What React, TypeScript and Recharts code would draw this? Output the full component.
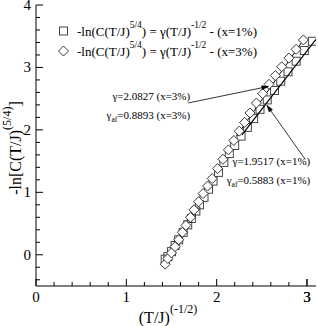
import React from 'react';
import { ComposedChart, Scatter, XAxis, YAxis, ReferenceDot } from 'recharts';

// ---- data ----
const sqX = [1.43, 1.46, 1.50, 1.54, 1.58, 1.63, 1.68, 1.72, 1.77, 1.81, 1.86, 1.91, 1.96, 2.02, 2.08, 2.14, 2.20, 2.27, 2.34, 2.41, 2.48, 2.56, 2.64, 2.71, 2.79, 2.88, 2.97, 3.06];
const sqY = [-0.07, -0.03, 0.05, 0.15, 0.24, 0.36, 0.48, 0.58, 0.70, 0.80, 0.92, 1.05, 1.18, 1.32, 1.48, 1.62, 1.75, 1.90, 2.04, 2.18, 2.33, 2.48, 2.63, 2.78, 2.93, 3.10, 3.27, 3.42];
const diX = [1.43, 1.46, 1.50, 1.54, 1.58, 1.62, 1.66, 1.71, 1.75, 1.80, 1.85, 1.90, 1.95, 2.01, 2.07, 2.13, 2.19, 2.25, 2.31, 2.37, 2.44, 2.51, 2.58, 2.65, 2.72, 2.80, 2.88, 2.96];
const diY = [-0.15, -0.06, 0.03, 0.13, 0.24, 0.36, 0.47, 0.60, 0.72, 0.85, 0.98, 1.10, 1.22, 1.38, 1.53, 1.68, 1.83, 1.98, 2.12, 2.27, 2.43, 2.58, 2.73, 2.87, 3.01, 3.15, 3.29, 3.44];
const fit1X = [2.28, 3.1];
const fit1Y = [1.92, 3.45];
const fit3X = [2.22, 2.97];
const fit3Y = [1.90, 3.46];
const arrow3X = [1.685, 2.574];
const arrow3Y = [2.431, 2.696];
const arrow1X = [2.981, 2.557];
const arrow1Y = [1.527, 2.393];

const xMajor = [0, 1, 2, 3];
const xMajorLabels = ['0', '1', '2', '3'];
const xMinor = [0.2, 0.4, 0.6, 0.8, 1.2, 1.4, 1.6, 1.8, 2.2, 2.4, 2.6, 2.8, 3.0];
const yMajor = [0, 1, 2, 3, 4];
const yMajorLabels = ['0', '1', '2', '3', '4'];
const yMinor = [-0.4, -0.2, 0.2, 0.4, 0.6, 0.8, 1.2, 1.4, 1.6, 1.8, 2.2, 2.4, 2.6, 2.8, 3.2, 3.4, 3.6, 3.8];

const legendLabels = ['(x=1%)', '(x=3%)'];
const gammaTexts = ['2.0827 (x=3%)', '1.9517 (x=1%)'];
const gammaAfTexts = ['0.8893 (x=3%)', '0.5883 (x=1%)'];

const pts = (xs: number[], ys: number[]) => xs.map((x, i) => ({ x, y: ys[i] }));
const squares = pts(sqX, sqY);
const diamonds = pts(diX, diY);
const fit1 = pts(fit1X, fit1Y);
const fit3 = pts(fit3X, fit3Y);
const arrow3 = pts(arrow3X, arrow3Y);
const arrow1 = pts(arrow1X, arrow1Y);

const xTicks = [...xMajor, ...xMinor].sort((a, b) => a - b);
const yTicks = [...yMajor, ...yMinor].sort((a, b) => a - b);

const FONT = '"Liberation Serif", "Times New Roman", serif';
const W = 318;
const H = 326;
const MAJ = 7;
const MIN = 4;

const isMajor = (v: number, majors: number[]) => majors.some((m) => Math.abs(m - v) < 1e-6);
const labelOf = (v: number, majors: number[], labels: string[]) => {
  const i = majors.findIndex((m) => Math.abs(m - v) < 1e-6);
  return i >= 0 ? labels[i] : '';
};

const BottomTick = (p: any) => {
  const v = p.payload.value;
  const maj = isMajor(v, xMajor);
  return (
    <g>
      <line x1={p.x} y1={p.y} x2={p.x} y2={p.y - (maj ? MAJ : MIN)} stroke="#000" strokeWidth={1} />
      {maj && (
        <text x={p.x} y={p.y + 15.5} textAnchor="middle" fontSize={15} fontFamily={FONT} fill="#000">
          {labelOf(v, xMajor, xMajorLabels)}
        </text>
      )}
    </g>
  );
};
const TopTick = (p: any) => {
  const maj = isMajor(p.payload.value, xMajor);
  return <line x1={p.x} y1={p.y} x2={p.x} y2={p.y + (maj ? MAJ : MIN)} stroke="#000" strokeWidth={1} />;
};
const LeftTick = (p: any) => {
  const v = p.payload.value;
  const maj = isMajor(v, yMajor);
  return (
    <g>
      <line x1={p.x} y1={p.y} x2={p.x + (maj ? MAJ : MIN)} y2={p.y} stroke="#000" strokeWidth={1} />
      {maj && (
        <text x={p.x - 5} y={p.y + 5} textAnchor="end" fontSize={15} fontFamily={FONT} fill="#000">
          {labelOf(v, yMajor, yMajorLabels)}
        </text>
      )}
    </g>
  );
};
const RightTick = (p: any) => {
  const maj = isMajor(p.payload.value, yMajor);
  return <line x1={p.x} y1={p.y} x2={p.x - (maj ? MAJ : MIN)} y2={p.y} stroke="#000" strokeWidth={1} />;
};

const SquareShape = (p: any) => (
  <rect x={p.cx - 4} y={p.cy - 4} width={8} height={8} fill="none" stroke="#333" strokeWidth={0.9} />
);
const DiamondShape = (p: any) => (
  <path
    d={`M${p.cx},${p.cy - 5}L${p.cx + 5},${p.cy}L${p.cx},${p.cy + 5}L${p.cx - 5},${p.cy}Z`}
    fill="#fff"
    stroke="#222"
    strokeWidth={0.9}
  />
);
const NoShape = () => <g />;

const ArrowLine = (props: any) => {
  const ps = props.points || [];
  if (ps.length < 2) return <g />;
  const a = ps[0];
  const b = ps[ps.length - 1];
  const ang = Math.atan2(b.y - a.y, b.x - a.x);
  const L = 7;
  const s = 0.3;
  const p1x = b.x - L * Math.cos(ang - s);
  const p1y = b.y - L * Math.sin(ang - s);
  const p2x = b.x - L * Math.cos(ang + s);
  const p2y = b.y - L * Math.sin(ang + s);
  return (
    <g>
      <line x1={a.x} y1={a.y} x2={b.x} y2={b.y} stroke="#000" strokeWidth={0.8} />
      <path d={`M${p1x},${p1y}L${b.x},${b.y}L${p2x},${p2y}Z`} fill="#000" stroke="#000" strokeWidth={0.5} />
    </g>
  );
};

const GammaText = (text: string) => (p: any) => (
  <text x={p.cx} y={p.cy} textAnchor="end" fontSize={11} fontFamily={FONT} fill="#000">
    γ={text}
  </text>
);
const GammaAfText = (text: string) => (p: any) => (
  <text x={p.cx} y={p.cy} textAnchor="end" fontSize={11} fontFamily={FONT} fill="#000">
    γ<tspan fontSize={7.5} dy={3}>af</tspan>
    <tspan dy={-3}>={text}</tspan>
  </text>
);

const axisCommon = {
  type: 'number' as const,
  tickSize: 0,
  tickMargin: 0,
  tickLine: false,
  interval: 0 as const,
  allowDataOverflow: true,
  axisLine: { stroke: '#000', strokeWidth: 1 },
};

const LegendFormula = ({ y, label }: { y: number; label: string }) => (
  <text x={77} y={y} fontSize={13} fontFamily={FONT} fill="#000">
    -ln(C(T/J)
    <tspan fontSize={9.5} dy={-8}>5/4</tspan>
    <tspan dy={8}>) = γ(T/J)</tspan>
    <tspan fontSize={9.5} dy={-8}>-1/2</tspan>
    <tspan dy={8}> - {label}</tspan>
  </text>
);

export default function App() {
  return (
    <div style={{ position: 'absolute', left: 0, top: 0, width: W, height: H, background: '#fff' }}>
      <ComposedChart width={W} height={H} margin={{ top: 5, right: 2, left: 0, bottom: 0 }}>
        <XAxis xAxisId="b" dataKey="x" domain={[0, 3.1]} ticks={xTicks} height={40} tick={BottomTick} {...axisCommon} />
        <XAxis xAxisId="t" orientation="top" dataKey="x" domain={[0, 3.1]} ticks={xTicks} height={0} tick={TopTick} {...axisCommon} />
        <YAxis yAxisId="l" dataKey="y" domain={[-0.5, 4]} ticks={yTicks} width={36} tick={LeftTick} {...axisCommon} />
        <YAxis yAxisId="r" orientation="right" dataKey="y" domain={[-0.5, 4]} ticks={yTicks} width={0} tick={RightTick} {...axisCommon} />

        <Scatter xAxisId="b" yAxisId="l" data={squares} shape={SquareShape} isAnimationActive={false} />
        <Scatter xAxisId="b" yAxisId="l" data={fit1} shape={NoShape} line={{ stroke: '#000', strokeWidth: 1.2 }} isAnimationActive={false} />
        <Scatter xAxisId="b" yAxisId="l" data={fit3} shape={NoShape} line={{ stroke: '#000', strokeWidth: 1 }} isAnimationActive={false} />
        <Scatter xAxisId="b" yAxisId="l" data={diamonds} shape={DiamondShape} isAnimationActive={false} />
        <Scatter xAxisId="b" yAxisId="l" data={arrow3} shape={NoShape} line={ArrowLine} isAnimationActive={false} />
        <Scatter xAxisId="b" yAxisId="l" data={arrow1} shape={NoShape} line={ArrowLine} isAnimationActive={false} />

        <ReferenceDot xAxisId="b" yAxisId="l" x={1.707} y={2.484} r={0} shape={GammaText(gammaTexts[0])} ifOverflow="visible" />
        <ReferenceDot xAxisId="b" yAxisId="l" x={1.707} y={2.181} r={0} shape={GammaAfText(gammaAfTexts[0])} ifOverflow="visible" />
        <ReferenceDot xAxisId="b" yAxisId="l" x={3.037} y={1.431} r={0} shape={GammaText(gammaTexts[1])} ifOverflow="visible" />
        <ReferenceDot xAxisId="b" yAxisId="l" x={3.037} y={1.136} r={0} shape={GammaAfText(gammaAfTexts[1])} ifOverflow="visible" />
      </ComposedChart>

      <svg width={W} height={H} style={{ position: 'absolute', left: 0, top: 0, pointerEvents: 'none' }}>
        {/* legend */}
        <rect x={59.5} y={27} width={8} height={8} fill="none" stroke="#333" strokeWidth={0.9} />
        <path d="M63.5,46L68.5,51L63.5,56L58.5,51Z" fill="#fff" stroke="#222" strokeWidth={0.9} />
        <LegendFormula y={36} label={legendLabels[0]} />
        <LegendFormula y={56} label={legendLabels[1]} />

        {/* x axis title */}
        <text x={168} y={323} textAnchor="middle" fontSize={16} fontFamily={FONT} fill="#000">
          (T/J)
          <tspan fontSize={12} dy={-10}>(-1/2)</tspan>
        </text>
        {/* y axis title */}
        <text
          x={0}
          y={0}
          transform="translate(21,148) rotate(-90)"
          textAnchor="middle"
          fontSize={16}
          fontFamily={FONT}
          fill="#000"
        >
          -ln[C(T/J)
          <tspan fontSize={12} dy={-10}>(5/4)</tspan>
          <tspan dy={10}>]</tspan>
        </text>
      </svg>
    </div>
  );
}
